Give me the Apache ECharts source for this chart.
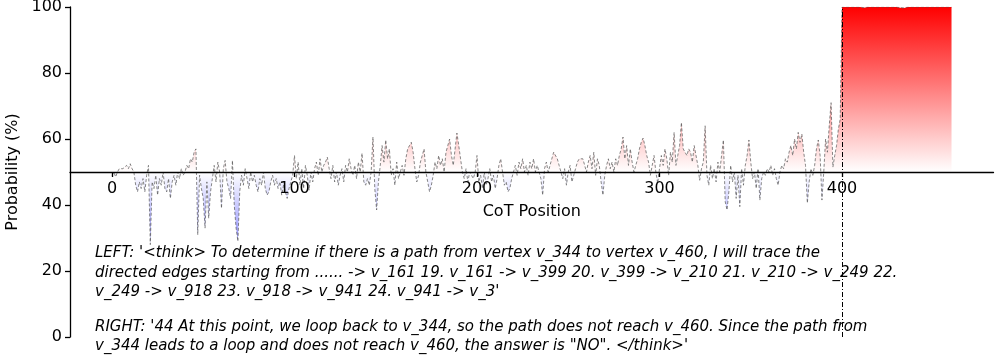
<!DOCTYPE html>
<html>
<head>
<meta charset="utf-8">
<script src="https://cdn.jsdelivr.net/npm/echarts@6/dist/echarts.min.js"></script>
<style>
  html, body { margin: 0; padding: 0; background: #fff; }
  #chart { width: 997px; height: 362px; }
</style>
</head>
<body>
<div id="chart"></div>
<script>
// probability (%) per CoT position
const cotProbs = [
    49, 50, 48.5, 50, 51, 50.5, 51, 51.5, 52, 51,
    52.5, 51, 50, 46, 44, 47, 45, 48, 44, 49,
    52, 28, 47, 45, 49, 43, 48, 46, 50, 45,
    44, 48, 42, 47, 49, 46, 50, 48, 51, 49,
    50, 52, 51, 54, 53, 56, 57, 31, 49, 45,
    42, 33, 47, 36, 44, 48, 52, 47, 53, 50,
    39, 51, 53.5, 47, 45, 42, 53.5, 40, 33, 29,
    44, 49, 46, 51, 48, 45, 50, 47, 49, 46,
    44, 48, 46, 50, 45, 43, 44, 47, 49, 46,
    48, 45, 47, 43, 46, 44, 42, 45, 47, 49,
    55, 48, 53, 46, 51, 45, 52, 49, 44.5, 50,
    47, 51, 53, 49, 54, 50, 52, 53, 54.5, 51,
    48, 52, 47, 50, 46, 49, 51, 47, 52, 50,
    54, 51, 49, 52, 48, 53, 50, 55.7, 47, 46,
    48, 46, 50, 60.6, 45, 38.5, 47, 52, 58, 53,
    59.7, 54, 57, 49, 51, 46, 53, 48, 50, 52,
    49, 54, 57, 58, 59, 56, 51, 47, 49, 53,
    55, 57, 50, 47, 44, 46, 49, 53, 51, 55,
    52, 54, 50, 56, 58, 60, 55, 52, 57, 61.8,
    58, 54, 50, 48, 51, 47, 50, 49, 48, 50,
    55, 47, 49, 45, 50, 46, 48, 51, 47, 49,
    45, 48, 52, 54, 50, 46, 47, 44, 45, 48,
    50, 52, 49, 53, 51, 54, 50, 52, 49, 53,
    51, 54, 50, 52, 50, 48, 43, 51, 53, 50,
    52, 54, 56, 55.5, 54, 52, 50, 48, 51, 46,
    50, 52, 47, 49, 51, 53, 54, 54.5, 54, 52,
    50, 53, 55, 51, 56, 49, 54, 52, 47, 43,
    49, 52, 54, 51, 53, 50, 54, 52, 55, 57,
    60.6, 54, 58, 52, 57, 53, 50, 52, 54, 57,
    59, 60.3, 58, 55, 53, 49, 52, 55, 50, 46.6,
    51, 55, 52, 57, 54, 49, 56, 53, 62, 52,
    55, 58, 65, 57, 56, 55, 57, 56, 53, 58,
    55, 52, 47.5, 51, 53, 64, 49, 46, 52, 48,
    51, 47, 53, 50, 55, 59.7, 41, 38.5, 44, 52,
    47, 50, 42, 49, 39.5, 51, 46, 52, 55, 59.7,
    53, 48, 50, 45, 51, 41.5, 48, 50, 49, 51,
    50, 52, 49, 51, 48, 46, 50, 52, 51, 54,
    53, 56, 58, 55, 60, 57, 62, 59, 61.5, 56,
    52, 40.6, 47, 51, 49, 52, 57, 59.7, 55, 41.5,
    50, 60, 56, 64, 71, 51.5, 55, 58, 63, 66,
    100, 100, 100, 100, 100, 99.9, 100, 100, 100, 100,
    100, 99.7, 99.8, 100, 100, 100, 100, 100, 100, 100,
    100, 100, 100, 100, 100, 100, 100, 100, 100, 100,
    100, 100, 99.8, 99.6, 99.7, 99.8, 100, 100, 100, 100,
    100, 100, 100, 100, 100, 100, 100, 100, 100, 100,
    100, 100, 100, 100, 100, 100, 100, 100, 100, 99.9,
    100
];
const xTicks = [0, 100, 200, 300, 400];
const splitPos = 400;
const noteLines = [
    "LEFT: '<think> To determine if there is a path from vertex v_344 to vertex v_460, I will trace the",
    "directed edges starting from ...... -> v_161 19. v_161 -> v_399 20. v_399 -> v_210 21. v_210 -> v_249 22.",
    "v_249 -> v_918 23. v_918 -> v_941 24. v_941 -> v_3'",
    "RIGHT: '44 At this point, we loop back to v_344, so the path does not reach v_460. Since the path from",
    "v_344 leads to a loop and does not reach v_460, the answer is \"NO\". </think>'"
];
const noteTops = [246, 266, 285, 320, 339];

const FONT = '"DejaVu Sans", sans-serif';
const chart = echarts.init(document.getElementById('chart'), null, {renderer: 'canvas'});

const gridTop = 7, gridBottom = 25;
const plotH = 362 - gridTop - gridBottom;

// blue (0) -> white (50) -> red (100), in page pixels
const bwr = new echarts.graphic.LinearGradient(0, gridTop, 0, gridTop + plotH, [
    {offset: 0, color: '#ff0000'},
    {offset: 0.5, color: '#ffffff'},
    {offset: 1, color: '#0000ff'},
], true);

const option = {
    animation: false,
    grid: {left: 70, right: 3.5, top: gridTop, bottom: gridBottom, outerBoundsMode: 'none'},
    xAxis: {
        type: 'value',
        min: -23,
        max: 483,
        offset: -plotH / 2,
        z: 5,
        name: 'CoT Position',
        nameLocation: 'middle',
        nameGap: 32,
        nameTextStyle: {color: '#000', fontSize: 16, fontFamily: FONT},
        axisLine: {show: true, onZero: false, lineStyle: {color: '#000', width: 1.3}},
        axisTick: {show: true, length: 5, customValues: xTicks, lineStyle: {color: '#000', width: 1.3}},
        axisLabel: {customValues: xTicks, margin: 9, color: '#000', fontSize: 16, fontFamily: FONT},
        splitLine: {show: false},
    },
    yAxis: {
        type: 'value',
        min: 0,
        max: 100,
        interval: 20,
        z: 5,
        name: 'Probability (%)',
        nameLocation: 'middle',
        nameGap: 46,
        nameTextStyle: {color: '#000', fontSize: 16, fontFamily: FONT},
        axisLine: {show: true, onZero: false, lineStyle: {color: '#000', width: 1.3}},
        axisTick: {show: true, length: 5, lineStyle: {color: '#000', width: 1.3}},
        axisLabel: {margin: 8, color: '#000', fontSize: 16, fontFamily: FONT},
        splitLine: {show: false},
    },
    series: [{
        type: 'line',
        data: cotProbs.map((v, i) => [i, v]),
        showSymbol: false,
        symbol: 'none',
        lineStyle: {color: '#555', width: 0.7, type: [3, 2]},
        areaStyle: {origin: 50, color: bwr, opacity: 1},
        z: 2,
        markLine: {
            silent: true,
            symbol: ['none', 'none'],
            label: {show: false},
            lineStyle: {color: '#000', width: 1, type: [5, 2, 1, 2]},
            data: [{xAxis: splitPos}],
        },
    }],
    graphic: noteLines.map((t, i) => ({
        type: 'text',
        left: 95,
        top: noteTops[i],
        style: {text: t, fill: '#000', font: 'italic 15px ' + FONT},
    })),
};
chart.setOption(option);
</script>
</body>
</html>
